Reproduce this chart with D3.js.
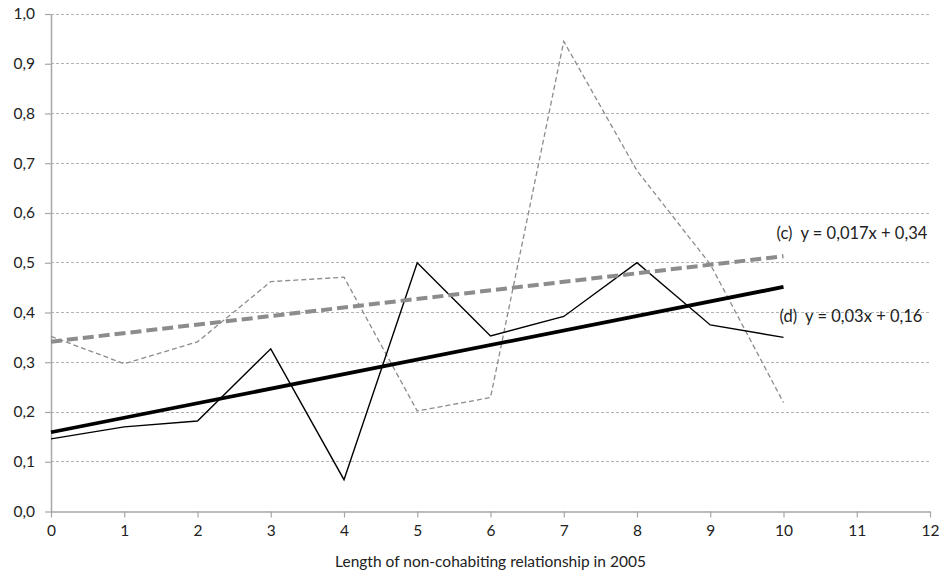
<!DOCTYPE html>
<html>
<head>
<meta charset="utf-8">
<script src="https://cdn.jsdelivr.net/npm/d3@7"></script>
<style>
  body { margin: 0; background: #fff; }
  svg text { font-family: Lato, "Open Sans", sans-serif; fill: #222; }
</style>
</head>
<body>
<div id="chart"></div>
<script>
// years of non-cohabiting relationship
var years = [0, 1, 2, 3, 4, 5, 6, 7, 8, 9, 10];
// series (c), thin grey dashed
var seriesC = [0.352, 0.297, 0.341, 0.462, 0.471, 0.202, 0.229, 0.945, 0.685, 0.497, 0.219];
// series (d), thin black
var seriesD = [0.146, 0.170, 0.182, 0.327, 0.064, 0.500, 0.353, 0.392, 0.500, 0.375, 0.350];
var xTicks = d3.range(0, 13);
var yTicks = d3.range(0, 11).map(function(i) { return i / 10; });
var eqLabels = ["(c)  y = 0,017x + 0,34", "(d)  y = 0,03x + 0,16"];

var margin = {top: 14, right: 17, bottom: 63.5, left: 51};
var width = 947 - margin.left - margin.right;
var height = 575 - margin.top - margin.bottom;

var svg = d3.select("#chart")
  .append("svg")
  .attr("width", 947)
  .attr("height", 575);

var g = svg.append("g")
  .attr("transform", "translate(" + margin.left + "," + margin.top + ")");

var x = d3.scaleLinear().domain([0, 12]).range([0, width]);
var y = d3.scaleLinear().domain([0, 1]).range([height, 0]);

var fmt = function(d) { return d3.format(".1f")(d).replace(".", ","); };

// gridlines
g.selectAll(".grid")
  .data(yTicks.slice(1))
  .enter()
  .append("line")
    .attr("x1", 0)
    .attr("x2", width)
    .attr("y1", function(d) { return y(d); })
    .attr("y2", function(d) { return y(d); })
    .attr("stroke", "#b3b3b3")
    .attr("stroke-width", 1)
    .attr("stroke-dasharray", "3,2")
    .attr("shape-rendering", "crispEdges");

// axes
var xAxis = g.append("g")
  .attr("transform", "translate(0," + height + ")")
  .call(d3.axisBottom(x).tickValues(xTicks).tickSize(6).tickSizeOuter(0).tickPadding(7));
var yAxis = g.append("g")
  .call(d3.axisLeft(y).tickValues(yTicks).tickFormat(fmt).tickSize(6).tickSizeOuter(0).tickPadding(10));

[xAxis, yAxis].forEach(function(a) {
  a.select(".domain").attr("stroke", "#a6a6a6").attr("stroke-width", 1.5);
  a.selectAll(".tick line").attr("stroke", "#a6a6a6").attr("stroke-width", 1.2);
  a.selectAll(".tick text").style("font-size", "15.5px").attr("fill", "#222")
    .style("font-family", "Lato, 'Open Sans', sans-serif");
});

// axis title
g.append("text")
  .attr("x", width / 2)
  .attr("y", height + 55)
  .attr("text-anchor", "middle")
  .style("font-size", "15.5px")
  .text("Length of non-cohabiting relationship in 2005");

var line = d3.line()
  .x(function(d) { return x(d[0]); })
  .y(function(d) { return y(d[1]); });

function pairs(vals) { return years.map(function(yr, i) { return [yr, vals[i]]; }); }

// least-squares trend like excel does
function trend(vals) {
  var mx = d3.mean(years), my = d3.mean(vals);
  var num = d3.sum(years, function(v, i) { return (v - mx) * (vals[i] - my); });
  var den = d3.sum(years, function(v) { return (v - mx) * (v - mx); });
  var b = num / den, a = my - b * mx;
  return [[years[0], a + b * years[0]], [years[years.length - 1], a + b * years[years.length - 1]]];
}

// raw series
g.append("path")
  .datum(pairs(seriesC))
  .attr("d", line)
  .attr("fill", "none")
  .attr("stroke", "#8c8c8c")
  .attr("stroke-width", 1.3)
  .attr("stroke-dasharray", "5,3");

g.append("path")
  .datum(pairs(seriesD))
  .attr("d", line)
  .attr("fill", "none")
  .attr("stroke", "#000")
  .attr("stroke-width", 1.4);

// trendlines
g.append("path")
  .datum(trend(seriesC))
  .attr("d", line)
  .attr("fill", "none")
  .attr("stroke", "#8c8c8c")
  .attr("stroke-width", 4)
  .attr("stroke-dasharray", "11,5");

g.append("path")
  .datum(trend(seriesD))
  .attr("d", line)
  .attr("fill", "none")
  .attr("stroke", "#000")
  .attr("stroke-width", 3.8);

// equation labels
g.append("text")
  .attr("x", x(10) - 7)
  .attr("y", y(0.56))
  .attr("dy", "0.35em")
  .style("font-size", "16.5px")
  .style("white-space", "pre")
  .text(eqLabels[0]);

g.append("text")
  .attr("x", x(10) - 4)
  .attr("y", y(0.393))
  .attr("dy", "0.35em")
  .style("font-size", "16.5px")
  .style("white-space", "pre")
  .text(eqLabels[1]);
</script>
</body>
</html>
